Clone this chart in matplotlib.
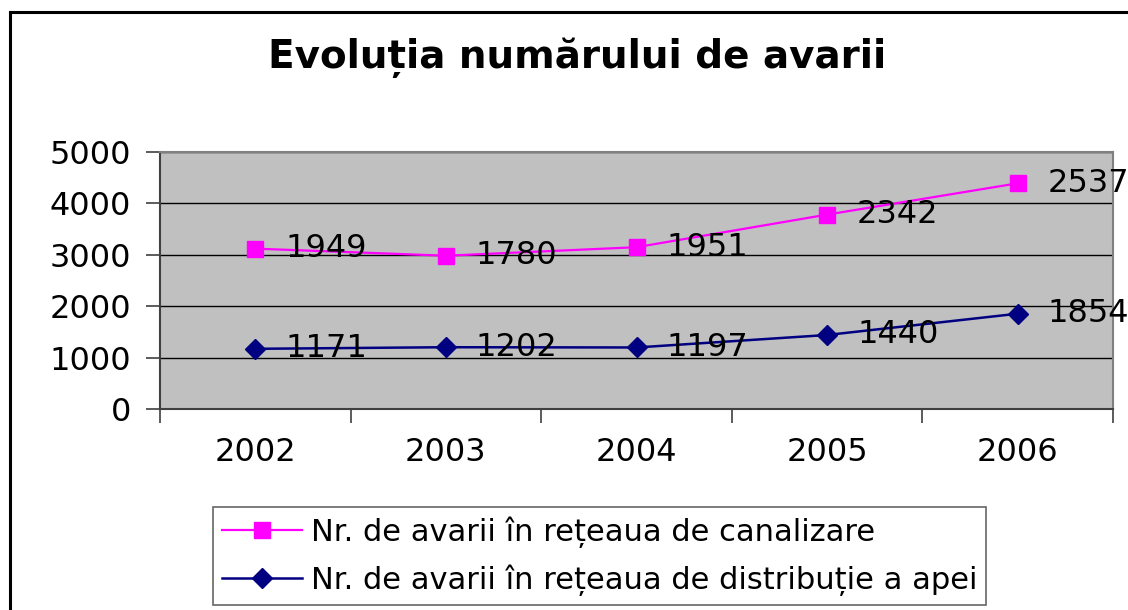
import matplotlib
matplotlib.use("Agg")
import matplotlib.pyplot as plt
from matplotlib.lines import Line2D
import numpy as np

years = ["2002", "2003", "2004", "2005", "2006"]
apa = [1171, 1202, 1197, 1440, 1854]
canalizare = [1949, 1780, 1951, 2342, 2537]
yticks = [0, 1000, 2000, 3000, 4000, 5000]

plt.rcParams['font.family'] = ['DejaVu Sans']

W, H = 1128, 610
fig = plt.figure(figsize=(W/100, H/100), dpi=100)

# chart border (left and top visible)
fig.add_artist(Line2D([10/W, 10/W], [0, 1 - 12/H], transform=fig.transFigure, color='black', lw=2.2))
fig.add_artist(Line2D([10/W, 1], [1 - 12/H, 1 - 12/H], transform=fig.transFigure, color='black', lw=2.2))

left, right, top, bottom = 160, 1113, 152, 409
ax = fig.add_axes([left/W, 1 - bottom/H, (right-left)/W, (bottom-top)/H])
ax.set_facecolor('#C0C0C0')

x = np.arange(len(years))
stacked_top = np.array(apa) + np.array(canalizare)

ax.plot(x, stacked_top, color='#FF00FF', lw=1.6, marker='s', markersize=12,
        markerfacecolor='#FF00FF', markeredgecolor='#FF00FF', zorder=3,
        label='Nr. de avarii în rețeaua de canalizare')
ax.plot(x, apa, color='#000080', lw=1.8, marker='D', markersize=10,
        markerfacecolor='#000080', markeredgecolor='#000080', zorder=3,
        label='Nr. de avarii în rețeaua de distribuție a apei')

for xi, yv, lab in zip(x, stacked_top, canalizare):
    ax.annotate(str(lab), (xi, yv), xytext=(30, 0), textcoords='offset pixels',
                ha='left', va='center', fontsize=23, color='black', zorder=4,
                annotation_clip=False)
for xi, yv, lab in zip(x, apa, apa):
    ax.annotate(str(lab), (xi, yv), xytext=(30, 0), textcoords='offset pixels',
                ha='left', va='center', fontsize=23, color='black', zorder=4,
                annotation_clip=False)

ax.set_xlim(-0.5, len(years) - 0.5)
ax.set_ylim(0, 5000)
ax.set_yticks(yticks)
ax.set_yticklabels([str(v) for v in yticks], fontsize=23)
ax.set_xticks(x)
ax.set_xticklabels(years, fontsize=23)
ax.set_xticks(np.arange(-0.5, len(years), 1.0), minor=True)
ax.tick_params(axis='x', which='major', length=0, pad=20)
ax.tick_params(axis='x', which='minor', length=10, width=1.2, color='#404040', direction='out')
ax.tick_params(axis='y', which='major', length=10, width=1.2, color='#404040', direction='out', pad=11)
ax.grid(axis='y', color='black', lw=1.0)
ax.set_axisbelow(True)
for s in ['top', 'right']:
    ax.spines[s].set_color('#808080')
    ax.spines[s].set_linewidth(1.5)
for s in ['left', 'bottom']:
    ax.spines[s].set_color('#404040')
    ax.spines[s].set_linewidth(1.5)

fig.text(577/W, 1 - 58/H, 'Evoluția numărului de avarii', ha='center', va='center',
         fontsize=28, fontweight='bold')

leg = fig.legend(loc='upper left', bbox_to_anchor=(213/W, 1 - 507/H),
                 fontsize=22, frameon=True, fancybox=False, edgecolor='#404040',
                 handlelength=2.6, handletextpad=0.3, borderpad=0.3, labelspacing=0.55,
                 borderaxespad=0, markerscale=1.0)
leg.get_frame().set_linewidth(1.2)

fig.savefig('out.png', dpi=100)
